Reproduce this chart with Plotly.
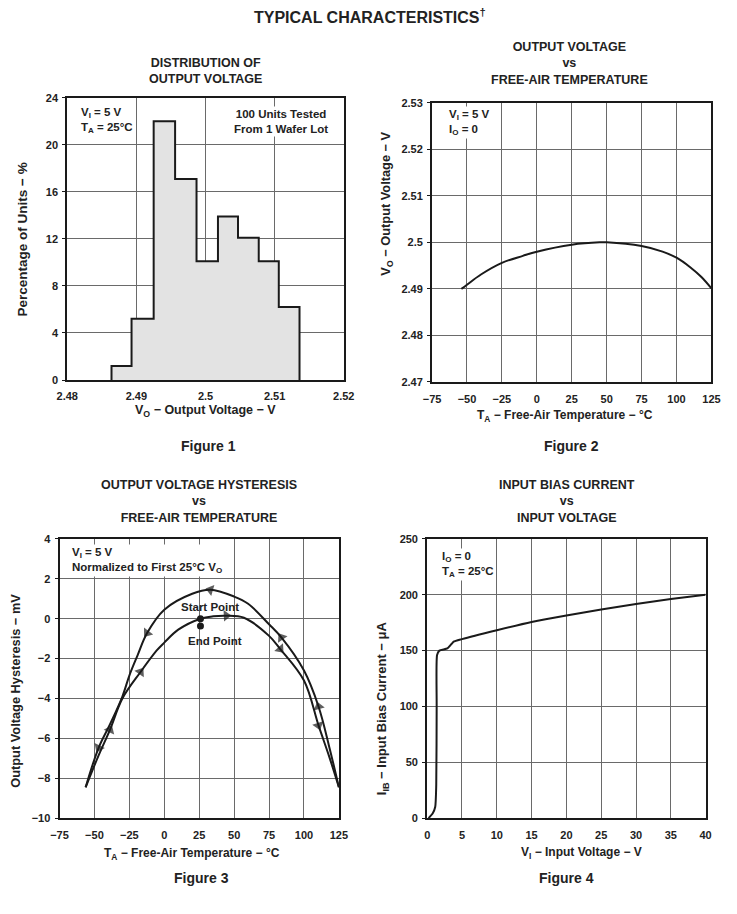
import plotly.graph_objects as go

W, H = 737, 914
FONT = "Liberation Sans"
TXT = "#222222"
INK = "#1a1a1a"

# ---------------- Figure 1: distribution of output voltage ----------------
hist_edges = [2.4864, 2.4893, 2.4925, 2.4956, 2.4987, 2.5018, 2.5047, 2.5077, 2.5106, 2.5136]
hist_pct = [1.2, 5.2, 22.0, 17.1, 10.1, 13.9, 12.1, 10.1, 6.2]
f1_xticks = [2.48, 2.49, 2.50, 2.51, 2.52]
f1_xlabels = ["2.48", "2.49", "2.5", "2.51", "2.52"]
f1_yticks = [0, 4, 8, 12, 16, 20, 24]

# ---------------- Figure 2: output voltage vs temperature ----------------
f2_temp = [-54, -50, -40, -25, -10, 0, 25, 45, 50, 75, 90, 100, 110, 118, 125]
f2_vo = [2.4900, 2.4909, 2.4931, 2.4956, 2.4971, 2.4980, 2.4995, 2.5000, 2.5000,
         2.4992, 2.4980, 2.4967, 2.4946, 2.4925, 2.4901]
f2_xticks = [-75, -50, -25, 0, 25, 50, 75, 100, 125]
f2_yticks = [2.47, 2.48, 2.49, 2.50, 2.51, 2.52, 2.53]

# ---------------- Figure 3: output voltage hysteresis ----------------
# forward path (heating from -55 through start point to 125)
f3_fwd_t = [-56.3, -47, -38.9, -30, -17, -5.4, 0, 10, 25.9, 35, 44.4, 57, 75, 83, 100, 110.4, 118, 125]
f3_fwd_mv = [-8.45, -6.85, -5.57, -4.0, -2.67, -1.59, -1.2, -0.55, 0.0, 0.12, 0.15, 0.05,
             -0.86, -1.52, -3.1, -5.35, -6.9, -8.45]
f3_fwd_arrows = [2, 4, 10, 13, 15]
# return path (cooling from 125 back to -55)
f3_ret_t = [125, 118, 110.4, 100, 83.8, 75, 60, 50, 33, 20, 0, -12.3, -19.2, -25, -30, -38.9, -47, -56.3]
f3_ret_mv = [-8.45, -6.4, -4.4, -2.6, -0.94, -0.28, 0.75, 1.11, 1.45, 1.25, 0.45, -0.72,
             -1.85, -2.85, -3.9, -5.3, -6.47, -8.45]
f3_ret_arrows = [2, 4, 8, 11, 16]
f3_pts_t = [25.9, 25.9]
f3_pts_mv = [0.0, -0.36]
f3_xticks = [-75, -50, -25, 0, 25, 50, 75, 100, 125]
f3_yticks = [-10, -8, -6, -4, -2, 0, 2, 4]

# ---------------- Figure 4: input bias current vs input voltage ----------------
f4_vi = [0.2, 0.8, 1.15, 1.3, 1.36, 1.42, 1.75, 2.9, 3.5, 3.8, 5, 10, 15, 20, 25, 30, 35, 40]
f4_iib = [0, 4.4, 10, 30, 100, 146, 150, 152, 156, 158, 160.3, 168.2, 175.6, 181.5,
          186.8, 191.8, 196.2, 200]
f4_xticks = [0, 5, 10, 15, 20, 25, 30, 35, 40]
f4_yticks = [0, 50, 100, 150, 200, 250]


def px(x):
    return x / W


def py(y):
    return 1 - y / H


fig = go.Figure()

# Figure 1 histogram outline (step) with gray fill
step_x = [hist_edges[0]] + hist_edges[:-1] + [hist_edges[-1]]
step_y = [0] + hist_pct + [0]
fig.add_trace(go.Scatter(x=step_x, y=step_y, mode="lines", line=dict(shape="hv", color=INK, width=2),
                         fill="tozeroy", fillcolor="#e3e3e3", xaxis="x", yaxis="y", hoverinfo="skip"))

# Figure 2 curve
fig.add_trace(go.Scatter(x=f2_temp, y=f2_vo, mode="lines", line=dict(shape="spline", color=INK, width=2),
                         xaxis="x2", yaxis="y2"))


def arrow_sizes(n, idx):
    return [10 if i in idx else 0 for i in range(n)]


# Figure 3 curves with direction arrows
for tt, mv, idx in [(f3_fwd_t, f3_fwd_mv, f3_fwd_arrows), (f3_ret_t, f3_ret_mv, f3_ret_arrows)]:
    fig.add_trace(go.Scatter(x=tt, y=mv, mode="lines+markers",
                             line=dict(shape="spline", color=INK, width=2),
                             marker=dict(symbol="triangle-up", size=arrow_sizes(len(tt), idx),
                                         color=INK, angleref="previous", line=dict(width=0)),
                             xaxis="x3", yaxis="y3"))
fig.add_trace(go.Scatter(x=f3_pts_t, y=f3_pts_mv, mode="markers",
                         marker=dict(symbol="circle", size=7, color=INK), xaxis="x3", yaxis="y3"))

# Figure 4 curve
fig.add_trace(go.Scatter(x=f4_vi, y=f4_iib, mode="lines", line=dict(shape="spline", smoothing=0.6, color=INK, width=2),
                         xaxis="x4", yaxis="y4"))

tickfont = dict(family=FONT, size=11, color=TXT, weight="bold")


def xax(dom, rng, ticks, anchor, texts=None, standoff=6):
    d = dict(domain=dom, range=rng, tickmode="array", tickvals=ticks, showgrid=True,
             gridcolor="#6a6a6a", gridwidth=1, showline=True, linecolor=INK, linewidth=2,
             mirror=True, zeroline=False, ticks="", tickfont=tickfont, anchor=anchor,
             ticklabelstandoff=standoff)
    if texts is not None:
        d["ticktext"] = texts
    return d


def yax(dom, rng, ticks, anchor):
    return dict(domain=dom, range=rng, tickmode="array", tickvals=ticks, showgrid=True,
                gridcolor="#6a6a6a", gridwidth=1, showline=True, linecolor=INK, linewidth=2,
                mirror=True, zeroline=False, ticks="outside", ticklen=3, tickcolor=INK,
                tickwidth=1, tickfont=tickfont, anchor=anchor, ticklabelstandoff=2)


fig.update_layout(
    width=W, height=H, autosize=False, margin=dict(l=0, r=0, t=0, b=0),
    paper_bgcolor="white", plot_bgcolor="white", showlegend=False,
    font=dict(family=FONT, color=TXT),
    xaxis=xax([px(58), px(343)], [2.48, 2.52], f1_xticks, "y", f1_xlabels, standoff=5),
    yaxis=yax([py(379), py(93)], [0, 24], f1_yticks, "x"),
    xaxis2=xax([px(434), px(722)], [-75, 125], f2_xticks, "y2"),
    yaxis2=yax([py(381), py(98)], [2.47, 2.53], f2_yticks, "x2"),
    xaxis3=xax([px(50), px(338)], [-75, 125], f3_xticks, "y3", standoff=6),
    yaxis3=yax([py(823), py(540)], [-10, 4], f3_yticks, "x3"),
    xaxis4=xax([px(429), px(716)], [0, 40], f4_xticks, "y4", standoff=6),
    yaxis4=yax([py(823), py(540)], [0, 250], f4_yticks, "x4"),
)


def ann(text, x, y, size=11.5, xanchor="center", yanchor="middle", angle=0, bg=None, align="center"):
    a = dict(text=text, x=px(x), y=py(y), xref="paper", yref="paper", showarrow=False,
             xanchor=xanchor, yanchor=yanchor, textangle=angle, align=align,
             font=dict(family=FONT, size=size, color=TXT, weight="bold"))
    if bg:
        a["bgcolor"] = bg
        a["borderpad"] = 1
    fig.add_annotation(**a)


# main title
ann("TYPICAL CHARACTERISTICS<sup>†</sup>", 370, 10, size=16)

# panel titles
ann("DISTRIBUTION OF<br>OUTPUT VOLTAGE", 200, 66, size=12.5)
ann("OUTPUT VOLTAGE<br>vs<br>FREE-AIR TEMPERATURE", 576, 58, size=12.5)
ann("OUTPUT VOLTAGE HYSTERESIS<br>vs<br>FREE-AIR TEMPERATURE", 194, 502, size=12.5)
ann("INPUT BIAS CURRENT<br>vs<br>INPUT VOLTAGE", 573, 502, size=12.5)

# in-plot notes
ann("V<sub>I</sub> = 5 V<br>T<sub>A</sub> = 25°C", 70, 116, xanchor="left", bg="white", align="left")
ann("100 Units Tested<br>From 1 Wafer Lot", 278, 117, bg="white")
ann("V<sub>I</sub> = 5 V<br>I<sub>O</sub> = 0", 449, 118, xanchor="left", bg="white", align="left")
ann("V<sub>I</sub> = 5 V<br>Normalized to First 25°C V<sub>O</sub>", 61, 562, xanchor="left", bg="white", align="left")
ann("I<sub>O</sub> = 0<br>T<sub>A</sub> = 25°C", 442, 566, xanchor="left", bg="white", align="left")
ann("Start Point", 205, 609, size=11.5)
ann("End Point", 210, 643, size=11.5)

# axis titles
ann("V<sub>O</sub> − Output Voltage − V", 200, 410, size=12.5)
ann("Percentage of Units − %", 12, 237, size=13.5, angle=-90)
ann("T<sub>A</sub> − Free-Air Temperature − °C", 571, 415, size=12)
ann("V<sub>O</sub> − Output Voltage − V", 387, 200, size=12.8, angle=-90)
ann("T<sub>A</sub> − Free-Air Temperature − °C", 187, 859, size=12)
ann("Output Voltage Hysteresis − mV", 5, 694, size=12.8, angle=-90)
ann("V<sub>I</sub> − Input Voltage − V", 588, 858, size=12)
ann("I<sub>IB</sub> − Input Bias Current − μA", 383, 712, size=13, angle=-90)

# captions
ann("Figure 1", 204, 446, size=14)
ann("Figure 2", 578, 446, size=14)
ann("Figure 3", 196, 884, size=14)
ann("Figure 4", 573, 884, size=14)

fig.write_html("out.html")
